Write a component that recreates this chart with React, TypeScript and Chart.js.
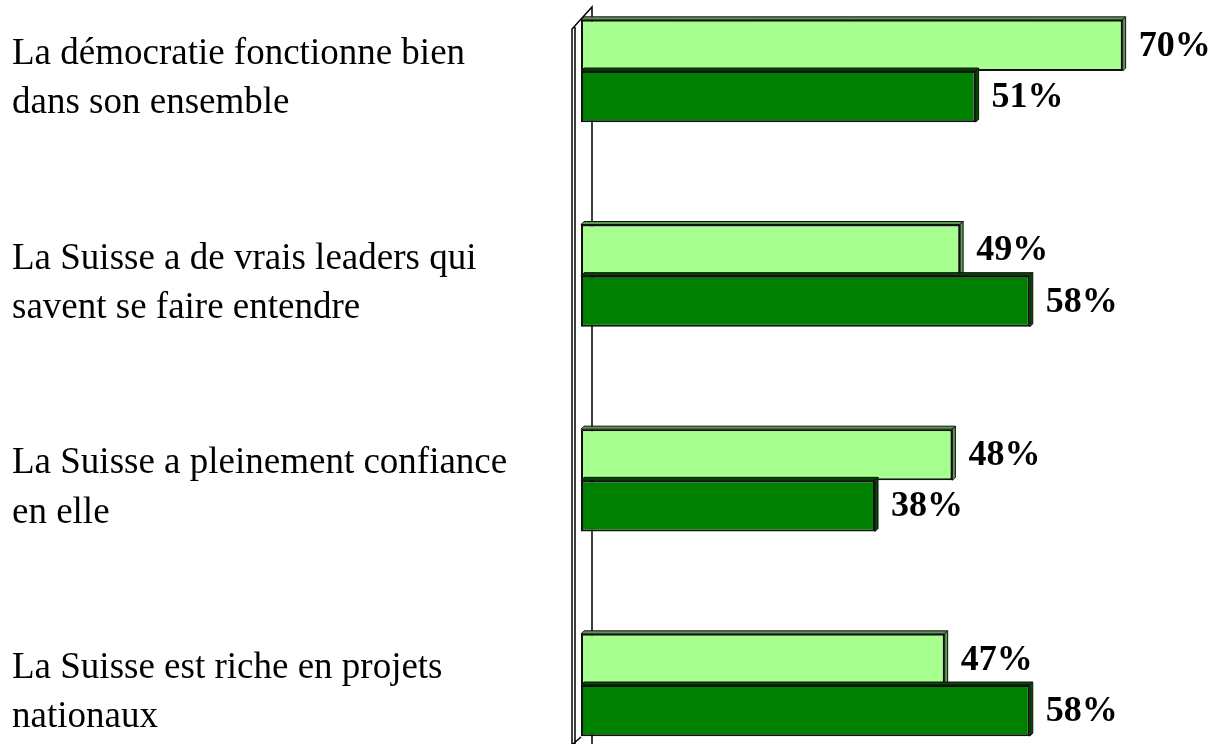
import React, { useEffect, useRef } from "react";
import { Chart, registerables } from "chart.js";

Chart.register(...registerables);

const categories: string[][] = [
  ["La démocratie fonctionne bien", "dans son ensemble"],
  ["La Suisse a de vrais leaders qui", "savent se faire entendre"],
  ["La Suisse a pleinement confiance", "en elle"],
  ["La Suisse est riche en projets", "nationaux"],
];
const seriesLight = [70, 49, 48, 47];
const seriesDark = [51, 58, 38, 58];

const LIGHT = "#a6ff8e";
const DARK = "#008000";
const LIGHT_SIDE = "#5f9a52";
const DARK_SIDE = "#004a00";
const SERIF = '"Liberation Serif", "Times New Roman", serif';

const wallPlugin = {
  id: "wall3d",
  beforeDatasetsDraw(chart: any) {
    const { ctx, chartArea, scales } = chart;
    const x0 = scales.x.getPixelForValue(0);
    const H = chart.height;
    const top = chartArea.top;
    const bottom = chartArea.bottom;
    ctx.save();
    ctx.strokeStyle = "#000";
    ctx.lineWidth = 1.5;
    ctx.beginPath();
    ctx.moveTo(x0 - 9, H);
    ctx.lineTo(x0 - 9, top - 42);
    ctx.lineTo(x0 + 11, top - 64);
    ctx.lineTo(x0 + 11, H);
    ctx.moveTo(x0 - 6, H);
    ctx.lineTo(x0 - 6, top - 44);
    ctx.moveTo(x0 - 8, H);
    ctx.lineTo(x0, bottom + 52);
    ctx.stroke();
    ctx.restore();
  },
  afterDatasetsDraw(chart: any) {
    const { ctx } = chart;
    const d = 3;
    ctx.save();
    chart.data.datasets.forEach((ds: any, di: number) => {
      const meta = chart.getDatasetMeta(di);
      const side = di === 0 ? LIGHT_SIDE : DARK_SIDE;
      meta.data.forEach((bar: any, i: number) => {
        const { x, y, base, height } = bar.getProps(["x", "y", "base", "height"], true);
        const t = y - height / 2;
        const b = y + height / 2;
        ctx.fillStyle = side;
        ctx.strokeStyle = "#111";
        ctx.lineWidth = 1;
        ctx.beginPath();
        ctx.moveTo(base, t);
        ctx.lineTo(base + d, t - d);
        ctx.lineTo(x + d, t - d);
        ctx.lineTo(x, t);
        ctx.closePath();
        ctx.fill();
        ctx.stroke();
        ctx.beginPath();
        ctx.moveTo(x, t);
        ctx.lineTo(x + d, t - d);
        ctx.lineTo(x + d, b - d);
        ctx.lineTo(x, b);
        ctx.closePath();
        ctx.fill();
        ctx.stroke();
        ctx.fillStyle = "#000";
        ctx.font = `bold 36px ${SERIF}`;
        ctx.textAlign = "left";
        ctx.textBaseline = "middle";
        ctx.fillText(`${ds.data[i]}%`, x + 16, y + 1);
      });
    });
    ctx.restore();
  },
};

export default function App() {
  const ref = useRef<HTMLCanvasElement | null>(null);
  useEffect(() => {
    if (!ref.current) return;
    const chart = new Chart(ref.current, {
      type: "bar",
      data: {
        labels: categories,
        datasets: [
          {
            data: seriesLight,
            backgroundColor: LIGHT,
            borderColor: "#111",
            borderWidth: 2,
            borderSkipped: false,
            categoryPercentage: 0.5,
            barPercentage: 1,
            clip: false,
          },
          {
            data: seriesDark,
            backgroundColor: DARK,
            borderColor: "#111",
            borderWidth: 2,
            borderSkipped: false,
            categoryPercentage: 0.5,
            barPercentage: 1,
            clip: false,
          },
        ],
      },
      options: {
        indexAxis: "y",
        animation: false,
        responsive: true,
        maintainAspectRatio: false,
        layout: { padding: { left: 12, right: 16, top: 71, bottom: 59 } },
        plugins: { legend: { display: false }, tooltip: { enabled: false } },
        scales: {
          x: { display: false, min: 0, max: 80 },
          y: {
            offset: false,
            grid: { display: false },
            border: { display: false },
            afterFit: (s: any) => {
              s.width = 569;
            },
            ticks: {
              crossAlign: "far",
              color: "#000",
              autoSkip: false,
              labelOffset: 8,
              font: { family: SERIF, size: 37, lineHeight: 1.33 },
            },
          },
        },
      },
      plugins: [wallPlugin],
    } as any);
    return () => chart.destroy();
  }, []);
  return (
    <div style={{ position: "fixed", left: 0, top: 0, width: 1216, height: 744, background: "#fff" }}>
      <canvas ref={ref} />
    </div>
  );
}
